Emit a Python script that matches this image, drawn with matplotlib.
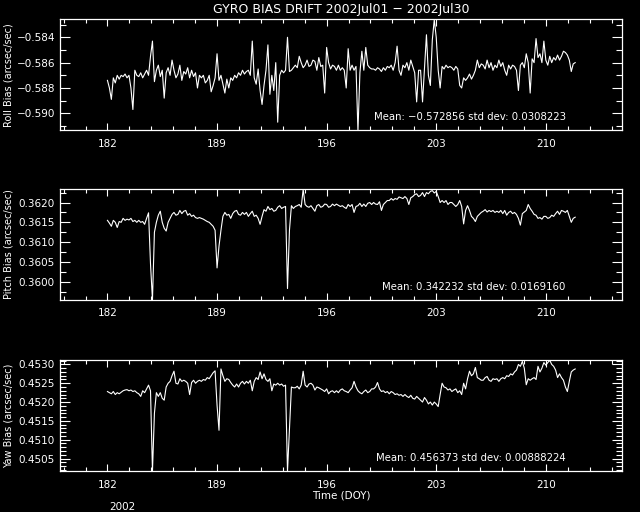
import numpy as np
import matplotlib.pyplot as plt
from matplotlib.ticker import FixedLocator, FuncFormatter

# eight readings per day, DOY 182.000 .. 211.875
doy = np.arange(182.0, 212.0, 0.125)

roll = [
    -0.5874, -0.5880, -0.5889, -0.5872, -0.5876, -0.5870, -0.5873, -0.5870,   # 182
    -0.5871, -0.5869, -0.5872, -0.5870, -0.5880, -0.5897, -0.5866, -0.5870,   # 183
    -0.5871, -0.5868, -0.5872, -0.5869, -0.5866, -0.5870, -0.5855, -0.5843,   # 184
    -0.5875, -0.5866, -0.5862, -0.5871, -0.5866, -0.5888, -0.5868, -0.5864,   # 185
    -0.5870, -0.5858, -0.5866, -0.5872, -0.5869, -0.5862, -0.5874, -0.5867,   # 186
    -0.5869, -0.5864, -0.5872, -0.5866, -0.5871, -0.5868, -0.5880, -0.5870,   # 187
    -0.5872, -0.5870, -0.5876, -0.5874, -0.5870, -0.5883, -0.5878, -0.5872,   # 188
    -0.5853, -0.5874, -0.5870, -0.5877, -0.5884, -0.5873, -0.5880, -0.5872,   # 189
    -0.5874, -0.5870, -0.5872, -0.5868, -0.5870, -0.5866, -0.5869, -0.5867,   # 190
    -0.5866, -0.5870, -0.5843, -0.5872, -0.5877, -0.5865, -0.5882, -0.5893,   # 191
    -0.5878, -0.5866, -0.5846, -0.5885, -0.5870, -0.5882, -0.5860, -0.5907,   # 192
    -0.5870, -0.5866, -0.5868, -0.5866, -0.5840, -0.5867, -0.5866, -0.5864,   # 193
    -0.5862, -0.5864, -0.5855, -0.5860, -0.5864, -0.5862, -0.5858, -0.5863,   # 194
    -0.5862, -0.5858, -0.5859, -0.5866, -0.5856, -0.5863, -0.5862, -0.5884,   # 195
    -0.5848, -0.5860, -0.5865, -0.5862, -0.5863, -0.5866, -0.5862, -0.5866,   # 196
    -0.5864, -0.5866, -0.5880, -0.5849, -0.5866, -0.5862, -0.5866, -0.5863,   # 197
    -0.5914, -0.5868, -0.5851, -0.5866, -0.5848, -0.5862, -0.5864, -0.5865,   # 198
    -0.5865, -0.5866, -0.5864, -0.5865, -0.5867, -0.5864, -0.5866, -0.5863,   # 199
    -0.5864, -0.5862, -0.5866, -0.5860, -0.5847, -0.5866, -0.5870, -0.5862,   # 200
    -0.5864, -0.5860, -0.5866, -0.5858, -0.5863, -0.5868, -0.5891, -0.5866,   # 201
    -0.5866, -0.5891, -0.5864, -0.5838, -0.5870, -0.5878, -0.5842, -0.5826,   # 202
    -0.5840, -0.5866, -0.5880, -0.5863, -0.5865, -0.5862, -0.5864, -0.5863,   # 203
    -0.5864, -0.5866, -0.5863, -0.5865, -0.5878, -0.5880, -0.5872, -0.5874,   # 204
    -0.5872, -0.5869, -0.5873, -0.5870, -0.5866, -0.5858, -0.5864, -0.5861,   # 205
    -0.5862, -0.5865, -0.5858, -0.5864, -0.5860, -0.5866, -0.5862, -0.5864,   # 206
    -0.5858, -0.5863, -0.5860, -0.5866, -0.5870, -0.5862, -0.5865, -0.5862,   # 207
    -0.5863, -0.5866, -0.5882, -0.5862, -0.5860, -0.5864, -0.5853, -0.5860,   # 208
    -0.5884, -0.5857, -0.5860, -0.5841, -0.5856, -0.5853, -0.5860, -0.5843,   # 209
    -0.5858, -0.5862, -0.5855, -0.5860, -0.5856, -0.5858, -0.5854, -0.5858,   # 210
    -0.5855, -0.5851, -0.5852, -0.5854, -0.5858, -0.5867, -0.5861, -0.5860,   # 211
]

pitch = [
    0.36155, 0.36148, 0.36140, 0.36155, 0.36150, 0.36137, 0.36152, 0.36150,   # 182
    0.36160, 0.36155, 0.36158, 0.36156, 0.36160, 0.36152, 0.36155, 0.36150,   # 183
    0.36155, 0.36150, 0.36152, 0.36145, 0.36160, 0.36174, 0.36045, 0.35954,   # 184
    0.36125, 0.36150, 0.36168, 0.36178, 0.36150, 0.36135, 0.36128, 0.36150,   # 185
    0.36160, 0.36170, 0.36175, 0.36168, 0.36170, 0.36180, 0.36172, 0.36178,   # 186
    0.36180, 0.36168, 0.36172, 0.36165, 0.36168, 0.36162, 0.36160, 0.36162,   # 187
    0.36160, 0.36158, 0.36155, 0.36152, 0.36150, 0.36145, 0.36140, 0.36130,   # 188
    0.36035, 0.36090, 0.36130, 0.36165, 0.36175, 0.36168, 0.36170, 0.36160,   # 189
    0.36172, 0.36178, 0.36180, 0.36170, 0.36168, 0.36175, 0.36170, 0.36175,   # 190
    0.36165, 0.36172, 0.36178, 0.36165, 0.36168, 0.36160, 0.36145, 0.36165,   # 191
    0.36182, 0.36178, 0.36190, 0.36182, 0.36185, 0.36178, 0.36180, 0.36188,   # 192
    0.36192, 0.36185, 0.36188, 0.36190, 0.35983, 0.36130, 0.36192, 0.36185,   # 193
    0.36190, 0.36192, 0.36195, 0.36188, 0.36233, 0.36195, 0.36190, 0.36188,   # 194
    0.36192, 0.36185, 0.36178, 0.36192, 0.36195, 0.36188, 0.36190, 0.36196,   # 195
    0.36195, 0.36188, 0.36190, 0.36196, 0.36192, 0.36196, 0.36193, 0.36190,   # 196
    0.36192, 0.36188, 0.36185, 0.36195, 0.36190, 0.36195, 0.36175, 0.36190,   # 197
    0.36192, 0.36198, 0.36190, 0.36196, 0.36190, 0.36198, 0.36200, 0.36195,   # 198
    0.36200, 0.36196, 0.36195, 0.36202, 0.36180, 0.36195, 0.36200, 0.36205,   # 199
    0.36205, 0.36210, 0.36206, 0.36210, 0.36208, 0.36214, 0.36212, 0.36210,   # 200
    0.36215, 0.36210, 0.36195, 0.36212, 0.36215, 0.36220, 0.36222, 0.36215,   # 201
    0.36218, 0.36225, 0.36215, 0.36225, 0.36222, 0.36228, 0.36230, 0.36224,   # 202
    0.36228, 0.36215, 0.36200, 0.36205, 0.36200, 0.36205, 0.36195, 0.36200,   # 203
    0.36200, 0.36195, 0.36190, 0.36195, 0.36205, 0.36190, 0.36146, 0.36180,   # 204
    0.36192, 0.36180, 0.36165, 0.36160, 0.36152, 0.36165, 0.36170, 0.36175,   # 205
    0.36178, 0.36182, 0.36176, 0.36180, 0.36177, 0.36180, 0.36175, 0.36178,   # 206
    0.36175, 0.36180, 0.36172, 0.36180, 0.36168, 0.36175, 0.36178, 0.36172,   # 207
    0.36175, 0.36170, 0.36160, 0.36143, 0.36172, 0.36176, 0.36180, 0.36195,   # 208
    0.36185, 0.36178, 0.36170, 0.36168, 0.36160, 0.36162, 0.36158, 0.36165,   # 209
    0.36165, 0.36160, 0.36162, 0.36168, 0.36165, 0.36172, 0.36178, 0.36170,   # 210
    0.36180, 0.36178, 0.36175, 0.36180, 0.36165, 0.36150, 0.36160, 0.36163,   # 211
]

yaw = [
    0.45228, 0.45225, 0.45222, 0.45228, 0.45220, 0.45225, 0.45222, 0.45226,   # 182
    0.45230, 0.45232, 0.45233, 0.45230, 0.45232, 0.45228, 0.45230, 0.45225,   # 183
    0.45222, 0.45215, 0.45230, 0.45225, 0.45235, 0.45245, 0.45230, 0.45016,   # 184
    0.45170, 0.45225, 0.45215, 0.45225, 0.45210, 0.45205, 0.45240, 0.45250,   # 185
    0.45255, 0.45270, 0.45282, 0.45250, 0.45248, 0.45262, 0.45255, 0.45258,   # 186
    0.45255, 0.45250, 0.45220, 0.45252, 0.45258, 0.45250, 0.45255, 0.45258,   # 187
    0.45255, 0.45260, 0.45258, 0.45265, 0.45262, 0.45270, 0.45278, 0.45283,   # 188
    0.45192, 0.45125, 0.45288, 0.45270, 0.45255, 0.45262, 0.45260, 0.45252,   # 189
    0.45245, 0.45240, 0.45248, 0.45240, 0.45250, 0.45255, 0.45248, 0.45255,   # 190
    0.45250, 0.45258, 0.45230, 0.45255, 0.45265, 0.45260, 0.45280, 0.45262,   # 191
    0.45275, 0.45260, 0.45255, 0.45262, 0.45230, 0.45248, 0.45245, 0.45250,   # 192
    0.45245, 0.45248, 0.45242, 0.45245, 0.45016, 0.45130, 0.45240, 0.45238,   # 193
    0.45238, 0.45242, 0.45235, 0.45245, 0.45282, 0.45245, 0.45240, 0.45248,   # 194
    0.45250, 0.45245, 0.45232, 0.45240, 0.45238, 0.45235, 0.45232, 0.45228,   # 195
    0.45235, 0.45222, 0.45228, 0.45230, 0.45225, 0.45230, 0.45225, 0.45232,   # 196
    0.45235, 0.45230, 0.45228, 0.45225, 0.45232, 0.45238, 0.45255, 0.45240,   # 197
    0.45230, 0.45225, 0.45222, 0.45228, 0.45232, 0.45225, 0.45228, 0.45235,   # 198
    0.45235, 0.45240, 0.45252, 0.45235, 0.45228, 0.45230, 0.45225, 0.45228,   # 199
    0.45222, 0.45228, 0.45225, 0.45220, 0.45222, 0.45218, 0.45220, 0.45215,   # 200
    0.45220, 0.45215, 0.45212, 0.45218, 0.45210, 0.45208, 0.45215, 0.45210,   # 201
    0.45205, 0.45200, 0.45212, 0.45205, 0.45195, 0.45200, 0.45192, 0.45200,   # 202
    0.45195, 0.45188, 0.45220, 0.45250, 0.45240, 0.45238, 0.45232, 0.45235,   # 203
    0.45228, 0.45232, 0.45235, 0.45225, 0.45230, 0.45220, 0.45250, 0.45235,   # 204
    0.45262, 0.45282, 0.45270, 0.45275, 0.45292, 0.45265, 0.45262, 0.45258,   # 205
    0.45258, 0.45265, 0.45268, 0.45258, 0.45255, 0.45262, 0.45260, 0.45262,   # 206
    0.45255, 0.45262, 0.45265, 0.45262, 0.45270, 0.45268, 0.45275, 0.45272,   # 207
    0.45280, 0.45285, 0.45300, 0.45295, 0.45308, 0.45290, 0.45246, 0.45262,   # 208
    0.45258, 0.45262, 0.45265, 0.45260, 0.45295, 0.45280, 0.45290, 0.45305,   # 209
    0.45298, 0.45305, 0.45311, 0.45300, 0.45295, 0.45285, 0.45265, 0.45275,   # 210
    0.45265, 0.45258, 0.45240, 0.45228, 0.45255, 0.45280, 0.45285, 0.45288,   # 211
]

ylabels = ['Roll Bias (arcsec/sec)', 'Pitch Bias (arcsec/sec)', 'Yaw Bias (arcsec/sec)']
stats = ['Mean: \u22120.572856 std dev: 0.0308223',
         'Mean: 0.342232 std dev: 0.0169160',
         'Mean: 0.456373 std dev: 0.00888224']
ylims = [(-0.59134, -0.58258), (0.35954, 0.36234), (0.45016, 0.45311)]
ymajor = [[-0.590, -0.588, -0.586, -0.584],
          [0.3600, 0.3605, 0.3610, 0.3615, 0.3620],
          [0.4505, 0.4510, 0.4515, 0.4520, 0.4525, 0.4530]]
yminor_step = [0.001, 0.00025, 0.0001]
ydigits = [3, 4, 4]
xticks = [182, 189, 196, 203, 210]

fig = plt.figure(figsize=(6.4, 5.12), dpi=100, facecolor='black')
bottoms = [0.7455, 0.414, 0.0795]
series = [roll, pitch, yaw]

for i in range(3):
    ax = fig.add_axes([0.0945, bottoms[i], 0.877, 0.2168], facecolor='black')
    ax.plot(doy, series[i], color='white', lw=0.8)
    ax.set_xlim(179, 214.85)
    ax.set_ylim(*ylims[i])
    ax.xaxis.set_major_locator(FixedLocator(xticks))
    ax.xaxis.set_minor_locator(FixedLocator(np.arange(179.2, 215, 1.4)))
    ax.yaxis.set_major_locator(FixedLocator(ymajor[i]))
    lo, hi = ylims[i]
    st = yminor_step[i]
    ax.yaxis.set_minor_locator(FixedLocator(np.arange(np.ceil(lo / st) * st, hi, st)))
    d = ydigits[i]
    ax.yaxis.set_major_formatter(FuncFormatter(
        lambda v, p, d=d: f'{v:.{d}f}'.replace('-', '\u2212')))
    ax.tick_params(which='both', direction='in', top=True, right=True,
                   colors='white', labelsize=7.5, width=0.8)
    ax.tick_params(axis='x', which='major', length=5, pad=6)
    ax.tick_params(axis='x', which='minor', length=3)
    ax.tick_params(axis='y', which='major', length=7, pad=4)
    ax.tick_params(axis='y', which='minor', length=4)
    for s in ax.spines.values():
        s.set_color('white')
        s.set_linewidth(0.9)
    # y label placed by hand, centred on the panel
    fig.text(9 / 640, bottoms[i] + 0.2168 / 2, ylabels[i], color='white',
             fontsize=7, rotation=90, ha='center', va='center')
    ax.text(0.9, 0.12, stats[i], transform=ax.transAxes, color='white',
            fontsize=7.3, ha='right', va='center')

fig.text(0.533, 1 - 10 / 512, 'GYRO BIAS DRIFT 2002Jul01 \u2212 2002Jul30',
         color='white', fontsize=9, ha='center', va='center')
fig.text(0.533, 1 - 496 / 512, 'Time (DOY)', color='white', fontsize=7.5,
         ha='center', va='center')
fig.text(122.5 / 640, 1 - 506.5 / 512, '2002', color='white', fontsize=7.5,
         ha='center', va='center')

fig.savefig('out.png', dpi=100, facecolor='black')
